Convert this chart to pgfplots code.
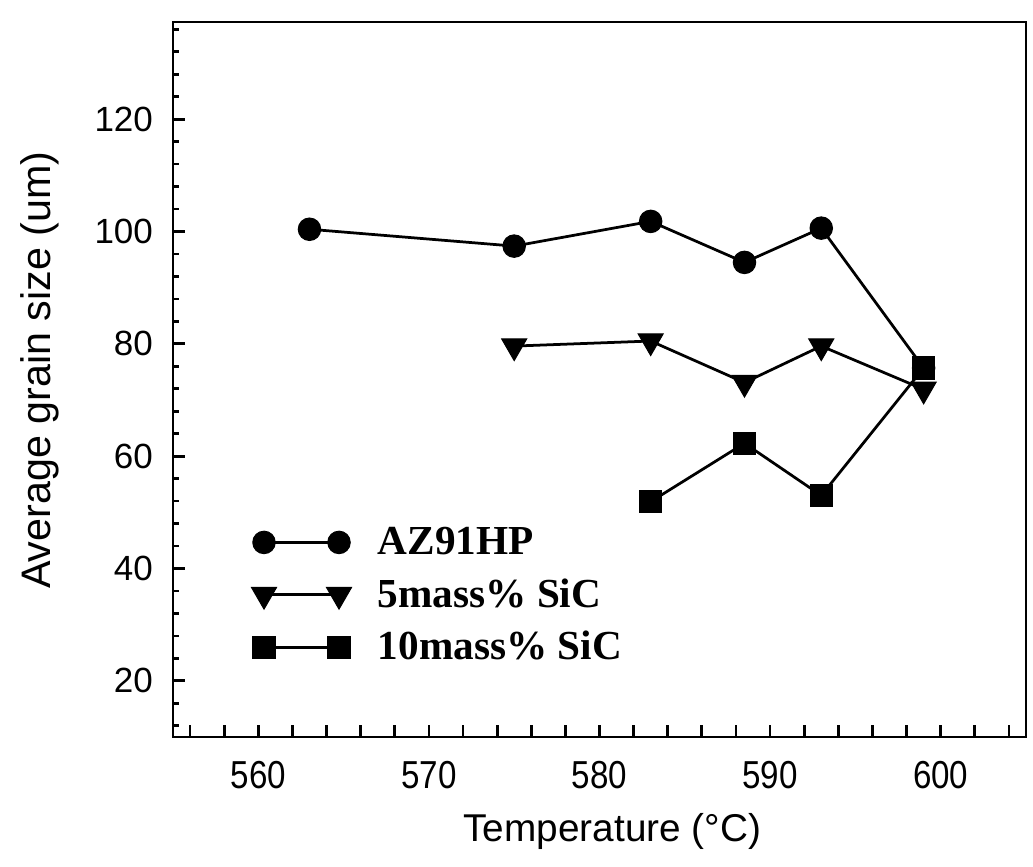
\documentclass[border=0pt]{standalone}
\usepackage{fontspec}
\setmainfont{Liberation Sans}
\newfontfamily\timesfont{Liberation Serif}
\usepackage{graphicx}
\usepackage{pgfplots}
\pgfplotsset{compat=1.18}
\newcommand{\sx}[1]{\scalebox{0.85}[1]{#1}}
\begin{document}
\begin{tikzpicture}
\begin{axis}[
  at={(0,0)}, anchor=south west,
  width=341.2pt, height=286pt, scale only axis,
  xmin=555, xmax=605, ymin=10, ymax=137.3,
  axis line style={line width=1.1pt},
  every tick/.style={black, line width=1.1pt},
  tick pos=left, tick align=inside,
  xtick={556,558,...,604},
  xticklabels={,,\sx{560},,,,,\sx{570},,,,,\sx{580},,,,,\sx{590},,,,,\sx{600},,},
  ytick={20,40,...,120},
  minor ytick={12,16,...,136},
  major tick length=5pt,
  minor tick length=2.3pt,
  /pgf/number format/assume math mode=true,
  xticklabel style={font=\fontsize{15.6}{18}\selectfont, yshift=-6pt},
  yticklabel style={font=\fontsize{14}{16}\selectfont, xshift=-4.5pt},
  xlabel={Temperature (\textdegree C)},
  ylabel={Average grain size (um)},
  xlabel style={font=\fontsize{15.5}{18}\selectfont, at={(axis description cs:0.515,-0.132)}, anchor=center},
  ylabel style={font=\fontsize{16.5}{18}\selectfont, at={(axis description cs:-0.156,0.513)}, anchor=center, rotate=0},
  legend image code/.code={\draw[#1] plot coordinates {(0pt,0pt) (30pt,0pt)};},
  legend cell align=left,
  legend style={draw=none, fill=none, at={(axis cs:559.57,47.5)}, anchor=north west,
    inner sep=0pt, row sep=8.2pt,
    font=\timesfont\bfseries\fontsize{16.5}{18}\selectfont,
    nodes={inner sep=0pt},
    /tikz/every odd column/.append style={column sep=10.5pt}},
]
\addplot[black, line width=1.1pt, mark=*, mark size=4.5pt, mark options={line width=0.4pt}]
  coordinates {(563,100.4)(575,97.4)(583,101.8)(588.5,94.5)(593,100.6)(599,75.7)};
\addlegendentry{AZ91HP}
\addplot[black, line width=1.1pt, mark=triangle*, mark size=5.8pt, mark options={line width=0.4pt, rotate=180}]
  coordinates {(575,79.6)(583,80.5)(588.5,73.1)(593,79.6)(599,71.9)};
\addlegendentry{5mass\% SiC}
\addplot[black, line width=1.1pt, mark=square*, mark size=4.5pt, mark options={line width=0.4pt}]
  coordinates {(583,51.9)(588.5,62.3)(593,53.0)(599,75.7)};
\addlegendentry{10mass\% SiC}
\end{axis}
\pgfresetboundingbox
\path (-69.2pt,-51.6pt) rectangle (344pt,294.8pt);
\end{tikzpicture}
\end{document}
